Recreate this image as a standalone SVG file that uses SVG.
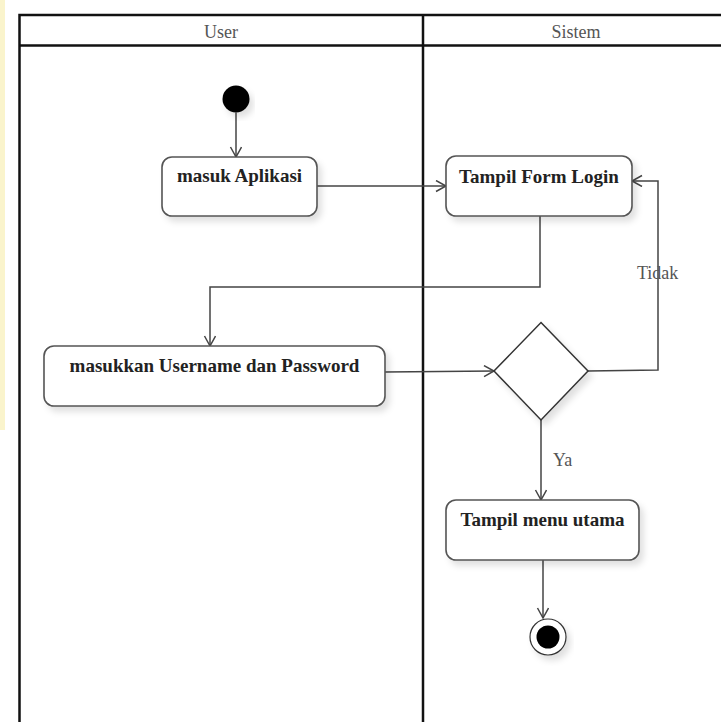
<svg xmlns="http://www.w3.org/2000/svg" width="721" height="722" viewBox="0 0 721 722">
<defs>
<style>
.lane{fill:none;stroke:#111;stroke-width:2.5}
.act{fill:#fff;stroke:#555;stroke-width:1.6;filter:url(#sh)}
.lbl{font-family:"Liberation Serif","Times New Roman",serif;font-weight:bold;font-size:19px;fill:#222;text-anchor:middle}
.hdr{font-family:"Liberation Serif","Times New Roman",serif;font-size:18px;fill:#555;text-anchor:middle}
.grd{font-family:"Liberation Serif","Times New Roman",serif;font-size:18px;fill:#555}
.con{fill:none;stroke:#444;stroke-width:1.5;marker-end:url(#arr)}
</style>
<marker id="arr" markerUnits="userSpaceOnUse" markerWidth="14" markerHeight="14" refX="11" refY="6" orient="auto">
<path d="M1,0.5 L11,6 L1,11.5" fill="none" stroke="#444" stroke-width="1.5"/>
</marker>
<filter id="sh" x="-10%" y="-10%" width="130%" height="140%">
<feDropShadow dx="4" dy="5" stdDeviation="3" flood-color="#000" flood-opacity="0.12"/>
</filter>
</defs>
<rect x="0" y="0" width="721" height="722" fill="#fff"/>
<rect x="0" y="0" width="5" height="430" fill="#faf4cc"/>
<g id="lanes">
<rect class="lane" x="19.5" y="15" width="710" height="720"/>
<line class="lane" x1="19.5" y1="45.5" x2="730" y2="45.5"/>
<line class="lane" x1="423" y1="15" x2="423" y2="722"/>
<text class="hdr" x="221" y="38">User</text>
<text class="hdr" x="576" y="38">Sistem</text>
</g>
<g id="connectors">
<path class="con" d="M236,112.5 L236,157"/>
<path class="con" d="M317,186 L446,186"/>
<path class="con" d="M540,216 L540,287 L210,287 L210,346"/>
<path class="con" d="M385,372 L494,371"/>
<path class="con" d="M588,371 L658,370 L658,181 L632,181"/>
<path class="con" d="M541,420 L541,500"/>
<path class="con" d="M543,560 L543,618"/>
<text class="grd" x="637" y="279">Tidak</text>
<text class="grd" x="553" y="466">Ya</text>
</g>
<g id="start">
<circle cx="236" cy="99" r="13.5" fill="#000" filter="url(#sh)"/>
</g>
<g id="masuk-aplikasi">
<rect class="act" x="162" y="157" width="155" height="59" rx="10"/>
<text class="lbl" x="239.5" y="182">masuk Aplikasi</text>
</g>
<g id="tampil-form-login">
<rect class="act" x="446" y="156" width="186" height="60" rx="10"/>
<text class="lbl" x="539" y="183">Tampil Form Login</text>
</g>
<g id="masukkan-username">
<rect class="act" x="44" y="346" width="341" height="60" rx="10"/>
<text class="lbl" x="214.5" y="372">masukkan Username dan Password</text>
</g>
<g id="decision">
<polygon points="541,322.5 588,371 541,420 494,371" fill="#fff" stroke="#333" stroke-width="1.5" filter="url(#sh)"/>
</g>
<g id="tampil-menu-utama">
<rect class="act" x="446" y="500" width="193" height="60" rx="10"/>
<text class="lbl" x="542.5" y="526">Tampil menu utama</text>
</g>
<g id="end">
<circle cx="548" cy="637" r="18" fill="#fff" stroke="#333" stroke-width="1.2" filter="url(#sh)"/>
<circle cx="548" cy="637" r="11.5" fill="#000"/>
</g>
</svg>
